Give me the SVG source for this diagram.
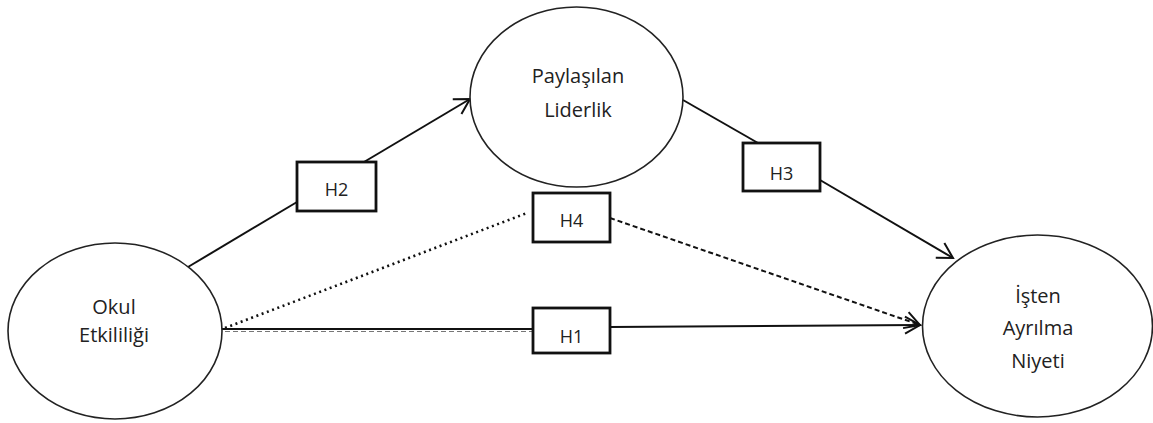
<svg xmlns="http://www.w3.org/2000/svg" width="1153" height="423" viewBox="0 0 1153 423">
<style>
.node ellipse{fill:#fff;stroke:#222;stroke-width:1.6}
.box rect{fill:#fff;stroke:#111;stroke-width:2.8}
.lbl{font-family:"Open Sans","Liberation Sans",sans-serif;font-size:20px;fill:#222;text-anchor:middle}
.blbl{font-family:"Open Sans","Liberation Sans",sans-serif;font-size:18px;fill:#222;text-anchor:middle}
.conn line{stroke:#111;stroke-width:2;fill:none}
.conn line.dot{stroke-width:2.6;stroke-dasharray:2 3.6}
.dash{stroke-dasharray:5 3}
</style>
<defs>
<marker id="arr" markerUnits="userSpaceOnUse" markerWidth="24" markerHeight="24" viewBox="-18 -12 22 24" refX="0" refY="0" orient="auto">
<path d="M-15,-8.5 L0,0 L-15,8.5" fill="none" stroke="#111" stroke-width="2"/>
</marker>
</defs>
<g id="connectors" class="conn">
<line x1="188" y1="267" x2="297" y2="202"/>
<line x1="364" y1="162" x2="470" y2="99" marker-end="url(#arr)"/>
<line x1="683" y1="100" x2="758" y2="143"/>
<line x1="820" y1="180" x2="953" y2="258" marker-end="url(#arr)"/>
<line x1="222" y1="329" x2="533" y2="329"/>
<line x1="225" y1="331.5" x2="533" y2="331.5" class="dash" style="stroke:#777;stroke-width:1.2"/>
<line x1="610" y1="327" x2="920" y2="325" marker-end="url(#arr)"/>
<line x1="225" y1="328" x2="527" y2="213" class="dot"/>
<line x1="610" y1="218" x2="920" y2="325" class="dash" marker-end="url(#arr)"/>
</g>
<g id="okul" class="node">
<ellipse cx="115" cy="331" rx="107" ry="88"/>
<text class="lbl" x="114" y="314">Okul</text>
<text class="lbl" x="114" y="342">Etkililiği</text>
</g>
<g id="paylasilan" class="node">
<ellipse cx="576.5" cy="97" rx="106.5" ry="90"/>
<text class="lbl" x="578" y="83">Paylaşılan</text>
<text class="lbl" x="578" y="117">Liderlik</text>
</g>
<g id="isten" class="node">
<ellipse cx="1037.5" cy="326" rx="115" ry="91"/>
<text class="lbl" x="1038" y="303">İşten</text>
<text class="lbl" x="1038" y="335">Ayrılma</text>
<text class="lbl" x="1038" y="368">Niyeti</text>
</g>
<g id="h2" class="box">
<rect x="297" y="162" width="79" height="49"/>
<text class="blbl" x="336.5" y="196">H2</text>
</g>
<g id="h3" class="box">
<rect x="743" y="143" width="77" height="48"/>
<text class="blbl" x="781.5" y="180">H3</text>
</g>
<g id="h4" class="box">
<rect x="533" y="193" width="77" height="49"/>
<text class="blbl" x="571.5" y="227">H4</text>
</g>
<g id="h1" class="box">
<rect x="533" y="308" width="77" height="45"/>
<text class="blbl" x="571.5" y="343">H1</text>
</g>
</svg>
